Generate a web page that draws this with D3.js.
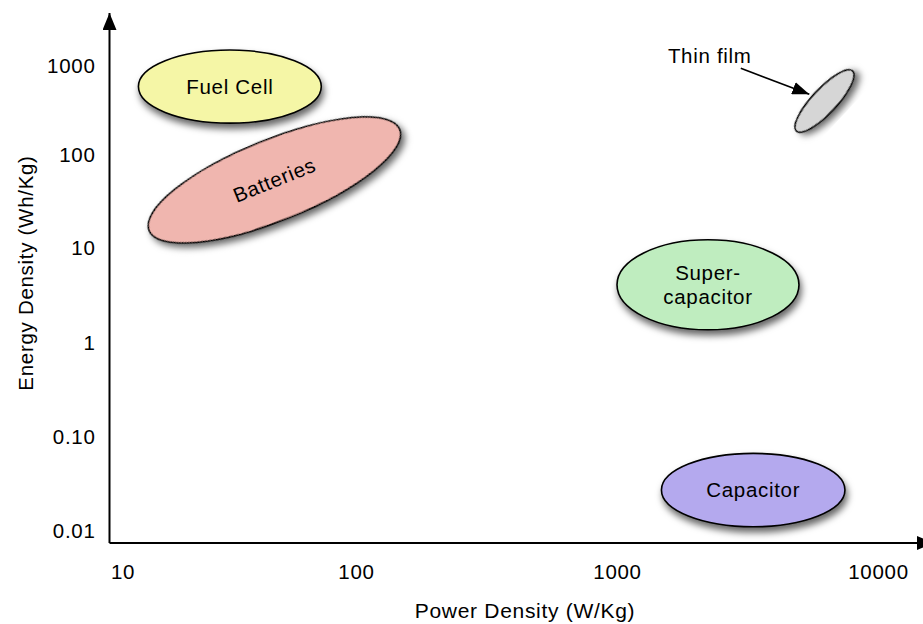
<!DOCTYPE html>
<html>
<head>
<meta charset="utf-8">
<script src="https://cdn.jsdelivr.net/npm/d3@7"></script>
<style>
  body { margin: 0; background: #fff; }
  svg { display: block; }
  text { font-family: "Liberation Sans", Arial, Helvetica, sans-serif; fill: #000; letter-spacing: 0.7px; }
</style>
</head>
<body>
<svg id="chart" width="923" height="624"></svg>
<script>
// Axis ticks: power density (W/Kg) and energy density (Wh/Kg)
const powerTicks = [10, 100, 1000, 10000];
const powerTickLabels = ["10", "100", "1000", "10000"];
const energyTicks = [1000, 100, 10, 1, 0.1, 0.01];
const energyTickLabels = ["1000", "100", "10", "1", "0.10", "0.01"];

// Storage technologies: each region's major axis runs from
// (powerFrom, energyFrom) to (powerTo, energyTo); widthRatio = minor / major
const technologies = ["Fuel Cell", "Batteries", "Thin film", "Super-capacitor", "Capacitor"];
const regionLabels = [["Fuel Cell"], ["Batteries"], [], ["Super-", "capacitor"], ["Capacitor"]];
const powerFrom = [11.7, 13.0, 4870, 1000, 1480];
const powerTo = [71, 147, 7990, 4980, 7470];
const energyFrom = [590, 15.5, 186, 4.1, 0.027];
const energyTo = [590, 194, 883, 4.1, 0.027];
const widthRatio = [0.40, 0.30, 0.30, 0.495, 0.40];
const regionColors = ["#f5f6a6", "#f0b6af", "#d6d6d6", "#bfedbf", "#b4a9ee"];

// Callout for the thin-film region: arrow from (power, energy) to (power, energy)
const calloutText = "Thin film";
const calloutFrom = [2980, 946];
const calloutTo = [5456, 483];

const svg = d3.select("#chart");

const frame = { left: 109.5, bottom: 543, top: 13, right: 934 };

// Log scales with hand-placed decades
const x = d3.scaleLog().domain(powerTicks).range([122.5, 356, 617, 878]);
const y = d3.scaleLog().domain(energyTicks).range([66.2, 155, 248.3, 342.5, 436.7, 530.5]);

const defs = svg.append("defs");

const shadow = defs.append("filter")
  .attr("id", "shadow")
  .attr("x", "-30%").attr("y", "-30%")
  .attr("width", "160%").attr("height", "170%");
shadow.append("feDropShadow")
  .attr("dx", 2).attr("dy", 5)
  .attr("stdDeviation", 3.5)
  .attr("flood-color", "#000")
  .attr("flood-opacity", 0.6);

defs.append("marker")
  .attr("id", "axisHead")
  .attr("markerUnits", "userSpaceOnUse")
  .attr("viewBox", "0 0 17 14")
  .attr("refX", 17).attr("refY", 7)
  .attr("markerWidth", 17).attr("markerHeight", 14)
  .attr("orient", "auto")
  .append("path")
  .attr("d", "M0,0L17,7L0,14Z")
  .attr("fill", "#000");

defs.append("marker")
  .attr("id", "calloutHead")
  .attr("markerUnits", "userSpaceOnUse")
  .attr("viewBox", "0 0 17 13")
  .attr("refX", 17).attr("refY", 6.5)
  .attr("markerWidth", 17).attr("markerHeight", 13)
  .attr("orient", "auto")
  .append("path")
  .attr("d", "M0,0L17,6.5L0,13Z")
  .attr("fill", "#000");

// Tick labels through the scales (no tick marks, no domain line)
const yAxis = svg.append("g")
  .attr("transform", `translate(${frame.left},0)`)
  .call(d3.axisLeft(y)
    .tickValues(energyTicks)
    .tickFormat((d, i) => energyTickLabels[i])
    .tickSize(0)
    .tickPadding(14));
yAxis.select(".domain").remove();
yAxis.selectAll("text")
  .attr("font-size", 20.5)
  .attr("font-family", null)
  .attr("fill", "#000");

const xAxis = svg.append("g")
  .attr("transform", `translate(0,${frame.bottom})`)
  .call(d3.axisBottom(x)
    .tickValues(powerTicks)
    .tickFormat((d, i) => powerTickLabels[i])
    .tickSize(0)
    .tickPadding(21));
xAxis.select(".domain").remove();
xAxis.selectAll("text")
  .attr("font-size", 20.5)
  .attr("font-family", null)
  .attr("fill", "#000");

// Axis lines with arrowheads
svg.append("path")
  .attr("d", `M${frame.left},${frame.bottom}L${frame.left},${frame.top}`)
  .attr("stroke", "#000").attr("stroke-width", 2).attr("fill", "none")
  .attr("marker-end", "url(#axisHead)");
svg.append("path")
  .attr("d", `M${frame.left},${frame.bottom}L${frame.right},${frame.bottom}`)
  .attr("stroke", "#000").attr("stroke-width", 2).attr("fill", "none")
  .attr("marker-end", "url(#axisHead)");

// Axis titles
svg.append("text")
  .attr("x", 525).attr("y", 618)
  .attr("text-anchor", "middle")
  .attr("font-size", 21)
  .text("Power Density (W/Kg)");
svg.append("text")
  .attr("transform", "translate(33,273) rotate(-90)")
  .attr("text-anchor", "middle")
  .attr("font-size", 20.5)
  .text("Energy Density (Wh/Kg)");

// Regions
const regions = technologies.map((name, i) => {
  const x1 = x(powerFrom[i]), y1 = y(energyFrom[i]);
  const x2 = x(powerTo[i]), y2 = y(energyTo[i]);
  const a = Math.hypot(x2 - x1, y2 - y1) / 2;
  return {
    name,
    lines: regionLabels[i],
    color: regionColors[i],
    cx: (x1 + x2) / 2,
    cy: (y1 + y2) / 2,
    rx: a,
    ry: a * widthRatio[i],
    angle: Math.atan2(y2 - y1, x2 - x1) * 180 / Math.PI
  };
});

const region = svg.append("g").selectAll("g")
  .data(regions)
  .join("g")
  .attr("transform", d => `translate(${d.cx},${d.cy}) rotate(${d.angle})`);

region.append("ellipse")
  .attr("rx", d => d.rx)
  .attr("ry", d => d.ry)
  .attr("fill", d => d.color)
  .attr("stroke", "#000")
  .attr("stroke-width", 1.6)
  .attr("filter", "url(#shadow)");

region.append("text")
  .attr("text-anchor", "middle")
  .attr("font-size", 20.5)
  .selectAll("tspan")
  .data(d => d.lines.map((t, j) => ({ t, j, n: d.lines.length })))
  .join("tspan")
  .attr("x", 0)
  .attr("y", d => (d.j - (d.n - 1) / 2) * 24.5)
  .attr("dy", "0.35em")
  .text(d => d.t);

// Thin-film callout
const cFrom = [x(calloutFrom[0]), y(calloutFrom[1])];
const cTo = [x(calloutTo[0]), y(calloutTo[1])];
svg.append("path")
  .attr("d", `M${cFrom[0]},${cFrom[1]}L${cTo[0]},${cTo[1]}`)
  .attr("stroke", "#000").attr("stroke-width", 1.6).attr("fill", "none")
  .attr("marker-end", "url(#calloutHead)");
svg.append("text")
  .attr("x", cFrom[0] - 31)
  .attr("y", cFrom[1] - 5)
  .attr("text-anchor", "middle")
  .attr("font-size", 20.5)
  .text(calloutText);
</script>
</body>
</html>
